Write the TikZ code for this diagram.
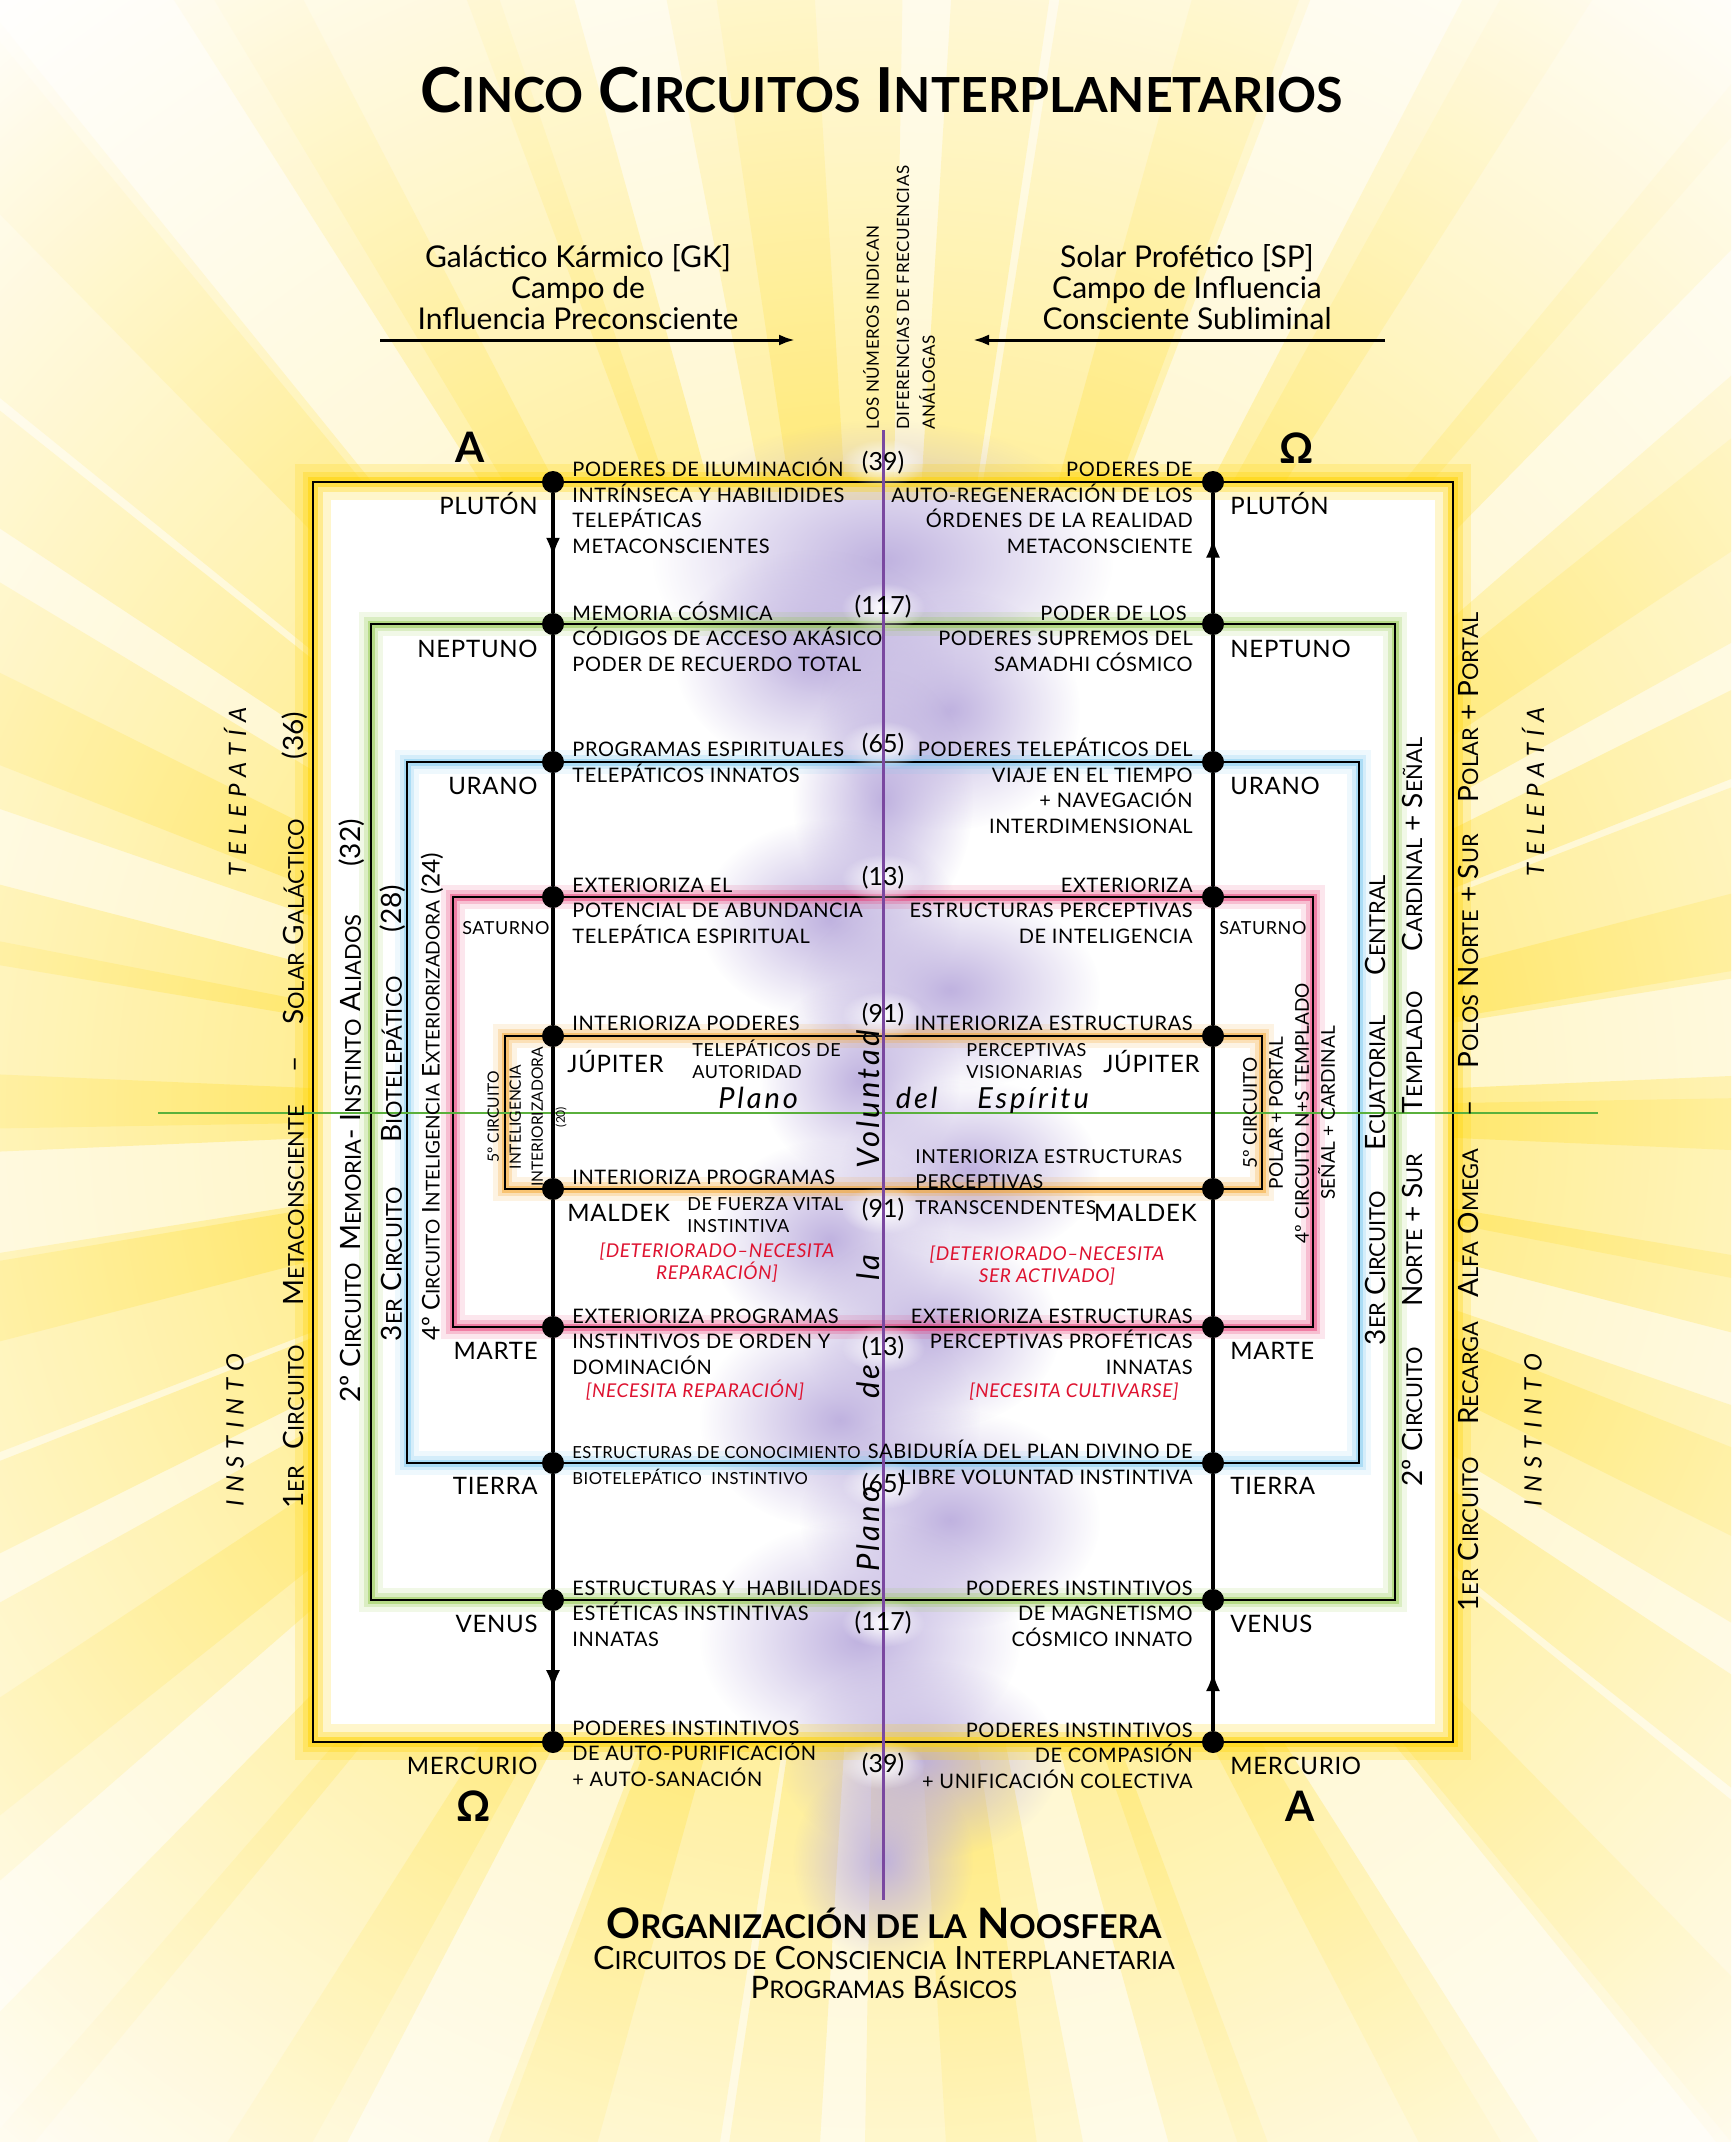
\documentclass[tikz,border=0pt]{standalone}
\usepackage{fontspec}
\usepackage{graphicx}
\setmainfont{Lato}
\newfontfamily\capsfont[LetterSpace=3]{Lato}
\newfontfamily\planefont[LetterSpace=10]{Lato}
\newfontfamily\moodfont[LetterSpace=30]{Lato}
\usetikzlibrary{positioning, arrows.meta, fadings, decorations.markings}

\definecolor{sunyel}{RGB}{255,220,30}
\definecolor{yelglow}{RGB}{255,212,0}
\definecolor{grnglow}{RGB}{140,198,63}
\definecolor{bluglow}{RGB}{120,200,240}
\definecolor{pnkglow}{RGB}{232,50,110}
\definecolor{orgglow}{RGB}{246,160,30}
\definecolor{mist}{RGB}{188,174,222}
\definecolor{violine}{RGB}{122,72,160}
\definecolor{equator}{RGB}{90,176,60}
\definecolor{redtxt}{RGB}{222,18,48}
\pgfdeclareradialshading{sunglow}{\pgfpoint{0bp}{0bp}}{color(0bp)=(sunyel); color(8bp)=(sunyel); color(24bp)=(white); color(50bp)=(white)}
\tikzfading[name=blurout, inner color=transparent!0, outer color=transparent!100]

\newcommand{\smc}[1]{\scalebox{0.78}{#1}}
\newcommand{\wgap}[1]{\hspace{#1pt}}

\tikzset{
  dot/.style={circle, fill=black, inner sep=0pt, minimum size=11pt},
  spine/.style={line width=2pt},
  border/.style={line width=1.2pt},
  midarrow/.style={postaction={decorate}, decoration={markings, mark=at position #1 with {\arrow{Latex[length=10pt,width=7pt]}}}},
  hdarrow/.style={line width=1.5pt, -{Latex[length=8pt,width=5.5pt]}},
  planet/.style={font=\capsfont\fontsize{12}{14}\selectfont, inner sep=0pt},
  desc/.style={font=\capsfont\fontsize{10}{12.7}\selectfont, inner sep=0pt, align=left, anchor=base west},
  descr/.style={desc, align=right, anchor=base east},
  small/.style={desc, font=\capsfont\fontsize{9}{10.8}\selectfont},
  warn/.style={font=\capsfont\itshape\fontsize{9.5}{10.8}\selectfont, text=redtxt, inner sep=0pt, align=center, anchor=base},
  num/.style={font=\fontsize{12.5}{14}\selectfont, inner sep=0pt},
  halo/.style={white, path fading=blurout},
  greek/.style={font=\bfseries\fontsize{21}{24}\selectfont, inner sep=0pt},
  head/.style={font=\fontsize{15}{15.5}\selectfont, align=center, inner sep=0pt},
  note/.style={rotate=90, anchor=west, font=\capsfont\fontsize{8.5}{10}\selectfont, inner sep=0pt},
  side/.style={rotate=90, font=\fontsize{14}{16}\selectfont, inner sep=0pt},
  mood/.style={rotate=90, font=\moodfont\itshape\fontsize{12}{14}\selectfont, inner sep=0pt},
  plane/.style={font=\planefont\itshape\fontsize{14.5}{16}\selectfont, inner sep=0pt},
}

\begin{document}
\begin{tikzpicture}[x=0.5pt, y=-0.5pt]
\useasboundingbox (0,0) rectangle (1731,2142);
\fill[white] (0,0) rectangle (1731,2142);
% sun rays
\begin{scope}
\clip (0,0) rectangle (1731,2142);
\shade[shading=sunglow, opacity=0.25] (883,1113) circle (1500);
\shade[shading=sunglow, opacity=0.35] \foreach \a in {5,25,...,345} {(883,1113) -- +(\a-6:1500) -- +(\a+6:1500) -- cycle};
\shade[shading=sunglow, opacity=0.4] \foreach \a in {0,12,...,348} {(883,1113) -- +(\a-2.5:1500) -- +(\a+2.5:1500) -- cycle};
\end{scope}
\fill[white] (313,482) rectangle (1453,1742);
% mist of the plane of will
\foreach \x/\y/\ra/\rb in {883/560/230/140, 815/660/140/110, 950/710/130/120, 883/800/90/130, 830/920/130/100, 950/990/150/100, 860/1080/100/100, 970/1170/130/90, 830/1240/120/100, 930/1330/130/100, 840/1420/140/110, 950/1520/150/110, 860/1640/160/120, 920/1760/140/100, 883/1860/90/100}
  \fill[mist, path fading=blurout, opacity=0.95] (\x,\y) ellipse ({\ra} and {\rb});

% circuits
\foreach \w/\o in {18/0.2, 10/0.3, 5/0.5}
  \draw[yelglow, line width=\w pt, opacity=\o] (313,482) rectangle (1453,1742);
\foreach \col/\lx/\ty/\rx/\by in {grnglow/371/624/1395/1600, bluglow/407/762/1359/1463, pnkglow/453/897/1313/1327, orgglow/505/1036/1262/1189}{
  \foreach \w/\o in {12/0.12, 7/0.22, 3.5/0.45}
    \draw[\col, line width=\w pt, opacity=\o] (\lx,\ty) rectangle (\rx,\by);
}
\foreach \lx/\ty/\rx/\by in {313/482/1453/1742, 371/624/1395/1600, 407/762/1359/1463, 453/897/1313/1327, 505/1036/1262/1189}
  \draw[border] (\lx,\ty) rectangle (\rx,\by);
\foreach \y in {463,607,745,878,1015,1210,1348,1485,1623,1765}
  \fill[halo] (883,\y) ellipse (42 and 24);
\draw[equator, line width=1pt] (158,1113) -- (1598,1113);
\draw[violine, line width=1.5pt] (883,430) -- (883,1900);

% planets
\node[dot] (pluL) at (553,482) {};   \node[dot] (pluR) at (1213,482) {};
\node[dot] (nepL) at (553,624) {};   \node[dot] (nepR) at (1213,624) {};
\node[dot] (uraL) at (553,762) {};   \node[dot] (uraR) at (1213,762) {};
\node[dot] (satL) at (553,897) {};   \node[dot] (satR) at (1213,897) {};
\node[dot] (jupL) at (553,1036) {};  \node[dot] (jupR) at (1213,1036) {};
\node[dot] (malL) at (553,1189) {};  \node[dot] (malR) at (1213,1189) {};
\node[dot] (marL) at (553,1327) {};  \node[dot] (marR) at (1213,1327) {};
\node[dot] (tieL) at (553,1463) {};  \node[dot] (tieR) at (1213,1463) {};
\node[dot] (venL) at (553,1600) {};  \node[dot] (venR) at (1213,1600) {};
\node[dot] (merL) at (553,1742) {};  \node[dot] (merR) at (1213,1742) {};
\draw[spine, midarrow=0.54] (pluL) -- (nepL);
\draw[spine] (nepL) -- (uraL) -- (satL) -- (jupL) -- (malL) -- (marL) -- (tieL) -- (venL);
\draw[spine, midarrow=0.66] (venL) -- (merL);
\draw[spine, midarrow=0.63] (nepR) -- (pluR);
\draw[spine] (nepR) -- (uraR) -- (satR) -- (jupR) -- (malR) -- (marR) -- (tieR) -- (venR);
\draw[spine, midarrow=0.5] (merR) -- (venR);

\node[planet, anchor=base east] (plutoA) at (538,514) {PLUTÓN};
\node[planet, anchor=base east] (neptA) at (538,657) {NEPTUNO};
\node[planet, anchor=base east] (uranA) at (538,794) {URANO};
\node[planet, anchor=base west, font=\capsfont\fontsize{9}{10}\selectfont] (satA) at (462,934) {SATURNO};
\node[planet, anchor=base west] (jupA) at (567,1072) {JÚPITER};
\node[planet, anchor=base west] (malA) at (567,1221) {MALDEK};
\node[planet, anchor=base east] (marA) at (538,1359) {MARTE};
\node[planet, anchor=base east] (tieA) at (538,1494) {TIERRA};
\node[planet, anchor=base east] (venA) at (538,1632) {VENUS};
\node[planet, anchor=base east] (merA) at (538,1774) {MERCURIO};
\node[planet, anchor=base west] (plutoB) at (1230,514) {PLUTÓN};
\node[planet, anchor=base west] (neptB) at (1230,657) {NEPTUNO};
\node[planet, anchor=base west] (uranB) at (1230,794) {URANO};
\node[planet, anchor=base west, font=\capsfont\fontsize{9}{10}\selectfont] (satB) at (1219,934) {SATURNO};
\node[planet, anchor=base east] (jupB) at (1200,1072) {JÚPITER};
\node[planet, anchor=base east] (malB) at (1197,1221) {MALDEK};
\node[planet, anchor=base west] (marB) at (1230,1359) {MARTE};
\node[planet, anchor=base west] (tieB) at (1230,1494) {TIERRA};
\node[planet, anchor=base west] (venB) at (1230,1632) {VENUS};
\node[planet, anchor=base west] (merB) at (1230,1774) {MERCURIO};

% frequency numbers
\foreach \y/\n in {463/39, 607/117, 745/65, 878/13, 1015/91, 1210/91, 1348/13, 1485/65, 1623/117, 1765/39}
  \node[num] (f\y) at (883,\y) {(\n)};

% programs, galactic side (base = last line)
\node[desc] (gk1) at (572,553) {PODERES DE ILUMINACIÓN\\INTRÍNSECA Y HABILIDIDES\\TELEPÁTICAS\\METACONSCIENTES};
\node[desc] (gk2) at (572,671) {MEMORIA CÓSMICA\\CÓDIGOS DE ACCESO AKÁSICO\\PODER DE RECUERDO TOTAL};
\node[desc] (gk3) at (572,782) {PROGRAMAS ESPIRITUALES\\TELEPÁTICOS INNATOS};
\node[desc] (gk4) at (572,943) {EXTERIORIZA EL\\POTENCIAL DE ABUNDANCIA\\TELEPÁTICA ESPIRITUAL};
\node[desc] (gk5) at (572,1030) {INTERIORIZA PODERES};
\node[small] (gk5b) at (692,1078) {TELEPÁTICOS DE\\AUTORIDAD};
\node[desc] (gk6) at (572,1184) {INTERIORIZA PROGRAMAS};
\node[small] (gk6b) at (687,1232) {DE FUERZA VITAL\\INSTINTIVA};
\node[warn] (gk6c) at (717,1279) {[DETERIORADO–NECESITA\\REPARACIÓN]};
\node[desc] (gk7) at (572,1374) {EXTERIORIZA PROGRAMAS\\INSTINTIVOS DE ORDEN Y\\DOMINACIÓN};
\node[warn] (gk7c) at (695,1397) {[NECESITA REPARACIÓN]};
\node[desc, font=\capsfont\fontsize{8.3}{12.7}\selectfont] (gk8) at (572,1484) {ESTRUCTURAS DE CONOCIMIENTO\\BIOTELEPÁTICO\ \ INSTINTIVO};
\node[desc] (gk9) at (572,1646) {ESTRUCTURAS Y\ \ HABILIDADES\\ESTÉTICAS INSTINTIVAS\\INNATAS};
\node[desc] (gk10) at (572,1786) {PODERES INSTINTIVOS\\DE AUTO-PURIFICACIÓN\\+ AUTO-SANACIÓN};

% programs, solar side (base = last line)
\node[descr] (sp1) at (1193,553) {PODERES DE\\AUTO-REGENERACIÓN DE LOS\\ÓRDENES DE LA REALIDAD\\METACONSCIENTE};
\node[descr] (sp2) at (1193,671) {PODER DE LOS\hspace*{3pt}\\PODERES SUPREMOS DEL\\SAMADHI CÓSMICO};
\node[descr] (sp3) at (1193,833) {PODERES TELEPÁTICOS DEL\\VIAJE EN EL TIEMPO\hspace*{3pt}\\+ NAVEGACIÓN\\INTERDIMENSIONAL};
\node[descr] (sp4) at (1193,943) {EXTERIORIZA\\ESTRUCTURAS PERCEPTIVAS\\DE INTELIGENCIA};
\node[descr] (sp5) at (1193,1030) {INTERIORIZA ESTRUCTURAS};
\node[small] (sp5b) at (966,1078) {PERCEPTIVAS\\VISIONARIAS};
\node[desc, font=\capsfont\fontsize{9.6}{12.7}\selectfont] (sp6) at (915,1214) {INTERIORIZA ESTRUCTURAS\\PERCEPTIVAS\\TRANSCENDENTES};
\node[warn] (sp6c) at (1047,1282) {[DETERIORADO–NECESITA\\SER ACTIVADO]};
\node[descr] (sp7) at (1193,1374) {EXTERIORIZA ESTRUCTURAS\\PERCEPTIVAS PROFÉTICAS\\INNATAS};
\node[warn] (sp7c) at (1074,1397) {[NECESITA CULTIVARSE]};
\node[descr] (sp8) at (1193,1484) {SABIDURÍA DEL PLAN DIVINO DE\\LIBRE VOLUNTAD INSTINTIVA};
\node[descr] (sp9) at (1193,1646) {PODERES INSTINTIVOS\\DE MAGNETISMO\hspace*{3pt}\\CÓSMICO INNATO};
\node[descr] (sp10) at (1193,1788) {PODERES INSTINTIVOS\\DE COMPASIÓN\\+ UNIFICACIÓN COLECTIVA};

% planes
\node[plane, anchor=base west] (spirit) at (718,1108) {Plano\hspace{49pt}del\hspace{20pt}Espíritu};
\node[plane, rotate=90, anchor=base, font=\planefont\itshape\fontsize{15.5}{17}\selectfont] (will) at (879,1301) {Plano\hspace{44pt}de\hspace{42pt}la\hspace{43pt}Voluntad};

% circuit names
\node[side] (c1l) at (295,1110) {1\smc{ER}\wgap{8}C\smc{IRCUITO}\wgap{20}M\smc{ETACONSCIENTE}\wgap{16}–\wgap{16}S\smc{OLAR} G\smc{ALÁCTICO}\wgap{30}(36)};
\node[side] (c2l) at (352,1111) {2º\wgap{4}C\smc{IRCUITO}\wgap{6}M\smc{EMORIA}-\wgap{4}I\smc{NSTINTO}\wgap{4}A\smc{LIADOS}\wgap{24}(32)};
\node[side] (c3l) at (393,1113) {3\smc{ER} C\smc{IRCUITO}\wgap{22}B\smc{IOTELEPÁTICO}\wgap{22}(28)};
\node[side, font=\fontsize{12.2}{14}\selectfont] (c4l) at (432,1097) {4º C\smc{IRCUITO} I\smc{NTELIGENCIA} E\smc{XTERIORIZADORA} (24)};
\node[side, font=\fontsize{7.8}{11}\selectfont, align=center] (c5l) at (527,1117) {5º CIRCUITO\\INTELIGENCIA\\INTERIORIZADORA\\{\fontsize{6}{6}\selectfont (20)}};
\node[side, font=\fontsize{9.5}{13}\selectfont, align=center] (c5r) at (1289,1113) {5º CIRCUITO\\POLAR + PORTAL\\4º CIRCUITO N+S TEMPLADO\\SEÑAL + CARDINAL};
\node[side] (c3r) at (1375,1110) {3\smc{ER} C\smc{IRCUITO}\wgap{20}E\smc{CUATORIAL}\wgap{20}C\smc{ENTRAL}};
\node[side] (c2r) at (1412,1112) {2º C\smc{IRCUITO}\wgap{20}N\smc{ORTE} + S\smc{UR}\wgap{20}T\smc{EMPLADO}\wgap{20}C\smc{ARDINAL} + S\smc{EÑAL}};
\node[side] (c1r) at (1468,1112) {1\smc{ER} C\smc{IRCUITO}\wgap{16}R\smc{ECARGA}\wgap{12}A\smc{LFA} O\smc{MEGA}\wgap{16}–\wgap{16}P\smc{OLOS} N\smc{ORTE} + S\smc{UR}\wgap{16}P\smc{OLAR} + P\smc{ORTAL}};
\node[mood] (telL) at (235,792) {TELEPATÍA};
\node[mood] (insL) at (235,1430) {INSTINTO};
\node[mood] (telR) at (1533,792) {TELEPATÍA};
\node[mood] (insR) at (1533,1430) {INSTINTO};

% alpha and omega
\node[greek] (alA) at (470,447) {A};
\node[greek] (omA) at (1297,448) {Ω};
\node[greek] (omB) at (474,1806) {Ω};
\node[greek] (alB) at (1300,1806) {A};

% header
\node[font=\bfseries\fontsize{31}{36}\selectfont, anchor=base, inner sep=0pt] (title) at (882,112) {C\smc{INCO} C\smc{IRCUITOS} I\smc{NTERPLANETARIOS}};
\node[head] (gk) at (578,287) {Galáctico Kármico [GK]\\Campo de\\Influencia Preconsciente};
\node[head] (sp) at (1187,287) {Solar Profético [SP]\\Campo de Influencia\\Consciente Subliminal};
\coordinate (gkA) at (380,340);
\coordinate (gkB) at (795,340);
\coordinate (spA) at (1385,340);
\coordinate (spB) at (973,340);
\draw[hdarrow] (gkA) -- (gkB);
\draw[hdarrow] (spA) -- (spB);
\node[note] (nt1) at (871,430) {LOS NÚMEROS INDICAN};
\node[note] (nt2) at (903,430) {DIFERENCIAS DE FRECUENCIAS};
\node[note] (nt3) at (927,430) {ANÁLOGAS};

% footer
\node[font=\bfseries\fontsize{21}{24}\selectfont, anchor=base, inner sep=0pt] (foot1) at (884,1938) {O\smc{RGANIZACIÓN DE LA} N\smc{OOSFERA}};
\node[font=\fontsize{16}{18}\selectfont, anchor=base, inner sep=0pt] (foot2) at (884,1969) {C\smc{IRCUITOS DE} C\smc{ONSCIENCIA} I\smc{NTERPLANETARIA}};
\node[font=\fontsize{15.5}{18}\selectfont, anchor=base, inner sep=0pt] (foot3) at (884,1998) {P\smc{ROGRAMAS} B\smc{ÁSICOS}};
\end{tikzpicture}
\end{document}
